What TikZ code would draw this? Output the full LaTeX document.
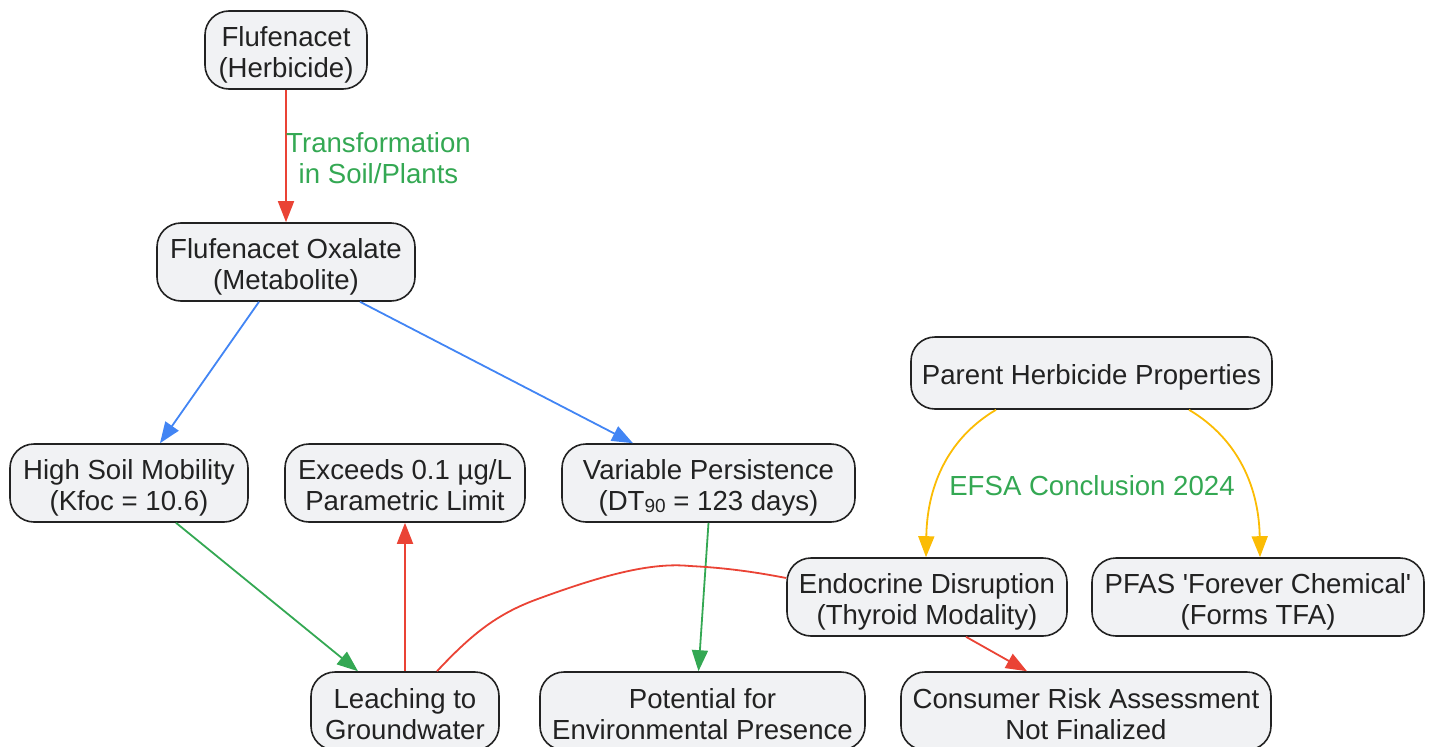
\documentclass[tikz,border=0pt]{standalone}
\usepackage{fontspec}
\setmainfont{Liberation Sans}
\usetikzlibrary{arrows.meta}
\definecolor{cred}{HTML}{EA4335}
\definecolor{cblue}{HTML}{4285F4}
\definecolor{cgreen}{HTML}{34A853}
\definecolor{cyellow}{HTML}{FBBC04}
\definecolor{cfill}{HTML}{F1F2F4}
\definecolor{cborder}{HTML}{222222}
\definecolor{ctext}{HTML}{222222}
\newcommand{\bxt}[2][5.5pt]{\raisebox{-#1}[\height][\depth]{\begin{tabular}{@{}c@{}}#2\end{tabular}}}
\tikzset{
  box/.style={draw=cborder, fill=cfill, line width=1.6pt, rounded corners=24pt,
    inner sep=0pt, text=ctext,
    font=\fontsize{27.6}{31}\selectfont},
  edge/.style={line width=1.8pt, -{Triangle[length=21pt,width=16pt]}},
  plain/.style={line width=1.8pt},
  elabel/.style={text=cgreen, align=center, font=\fontsize{27.6}{31}\selectfont}
}
\begin{document}
\begin{tikzpicture}[x=1pt,y=-1pt]
\useasboundingbox (0,0) rectangle (1433,747);
\node[box, minimum width=162pt, minimum height=78pt] (f) at (286,50) {\bxt[6pt]{Flufenacet\\(Herbicide)}};
\node[box, minimum width=258pt, minimum height=78pt] (ox) at (286,262) {\bxt{Flufenacet Oxalate\\(Metabolite)}};
\node[box, minimum width=238pt, minimum height=78pt] (hm) at (129,483) {\bxt{High Soil Mobility\\(Kfoc = 10.6)}};
\node[box, minimum width=240pt, minimum height=78pt] (ex) at (405,483) {\bxt{Exceeds 0.1 µg/L\\Parametric Limit}};
\node[box, minimum width=293pt, minimum height=78pt] (vp) at (708.5,483) {\bxt{Variable Persistence\\(DT{\fontsize{19}{19}\selectfont\raisebox{-2pt}{90}} = 123 days)}};
\node[box, minimum width=361pt, minimum height=72pt] (ph) at (1091.5,373) {\bxt[5pt]{Parent Herbicide Properties}};
\node[box, minimum width=280pt, minimum height=78pt] (ed) at (927,597) {\bxt{Endocrine Disruption\\(Thyroid Modality)}};
\node[box, minimum width=332pt, minimum height=78pt] (pf) at (1258,597) {\bxt{PFAS \textquotesingle Forever Chemical\textquotesingle\\(Forms TFA)}};
\node[box, minimum width=188pt, minimum height=78pt] (le) at (405,711) {\bxt[6.5pt]{Leaching to\\Groundwater}};
\node[box, minimum width=325pt, minimum height=78pt] (po) at (702.5,711) {\bxt[6.5pt]{Potential for\\Environmental Presence}};
\node[box, minimum width=370pt, minimum height=78pt] (cr) at (1086,711) {\bxt[6.5pt]{Consumer Risk Assessment\\Not Finalized}};

\draw[edge, cred] (f.south) -- (ox.north) node[pos=0.5, yshift=-2pt, right=-4pt, elabel, anchor=west] (tl) {Transformation\\in Soil/Plants};
\draw[edge, cblue] ([xshift=-27pt]ox.south) -- ([xshift=31pt]hm.north);
\draw[edge, cblue] ([xshift=74pt]ox.south) -- ([xshift=-75.5pt]vp.north);
\draw[edge, cgreen] ([xshift=47pt]hm.south) -- ([xshift=-47pt]le.north);
\draw[edge, cred] (le.north) -- (ex.south);
\draw[edge, cgreen] (vp.south) -- ([xshift=-4pt]po.north);
\draw[edge, cyellow] ([xshift=-95.5pt]ph.south) .. controls (945,440) and (927,490) .. ([xshift=-1pt]ed.north);
\draw[edge, cyellow] ([xshift=97.5pt]ph.south) .. controls (1240,440) and (1259,490) .. ([xshift=2pt]pf.north);
\node[elabel] (efsa) at (1092,486) {EFSA Conclusion 2024};
\draw[edge, cred] ([xshift=39pt]ed.south) -- ([xshift=-59pt]cr.north);
\draw[plain, cred] ([xshift=32pt]le.north) .. controls (470,636) and (495,615) .. (535,600)
  .. controls (600,576) and (650,562) .. (690,566)
  .. controls (730,568) and (760,573) .. ([yshift=19pt]ed.west);
\end{tikzpicture}
\end{document}
